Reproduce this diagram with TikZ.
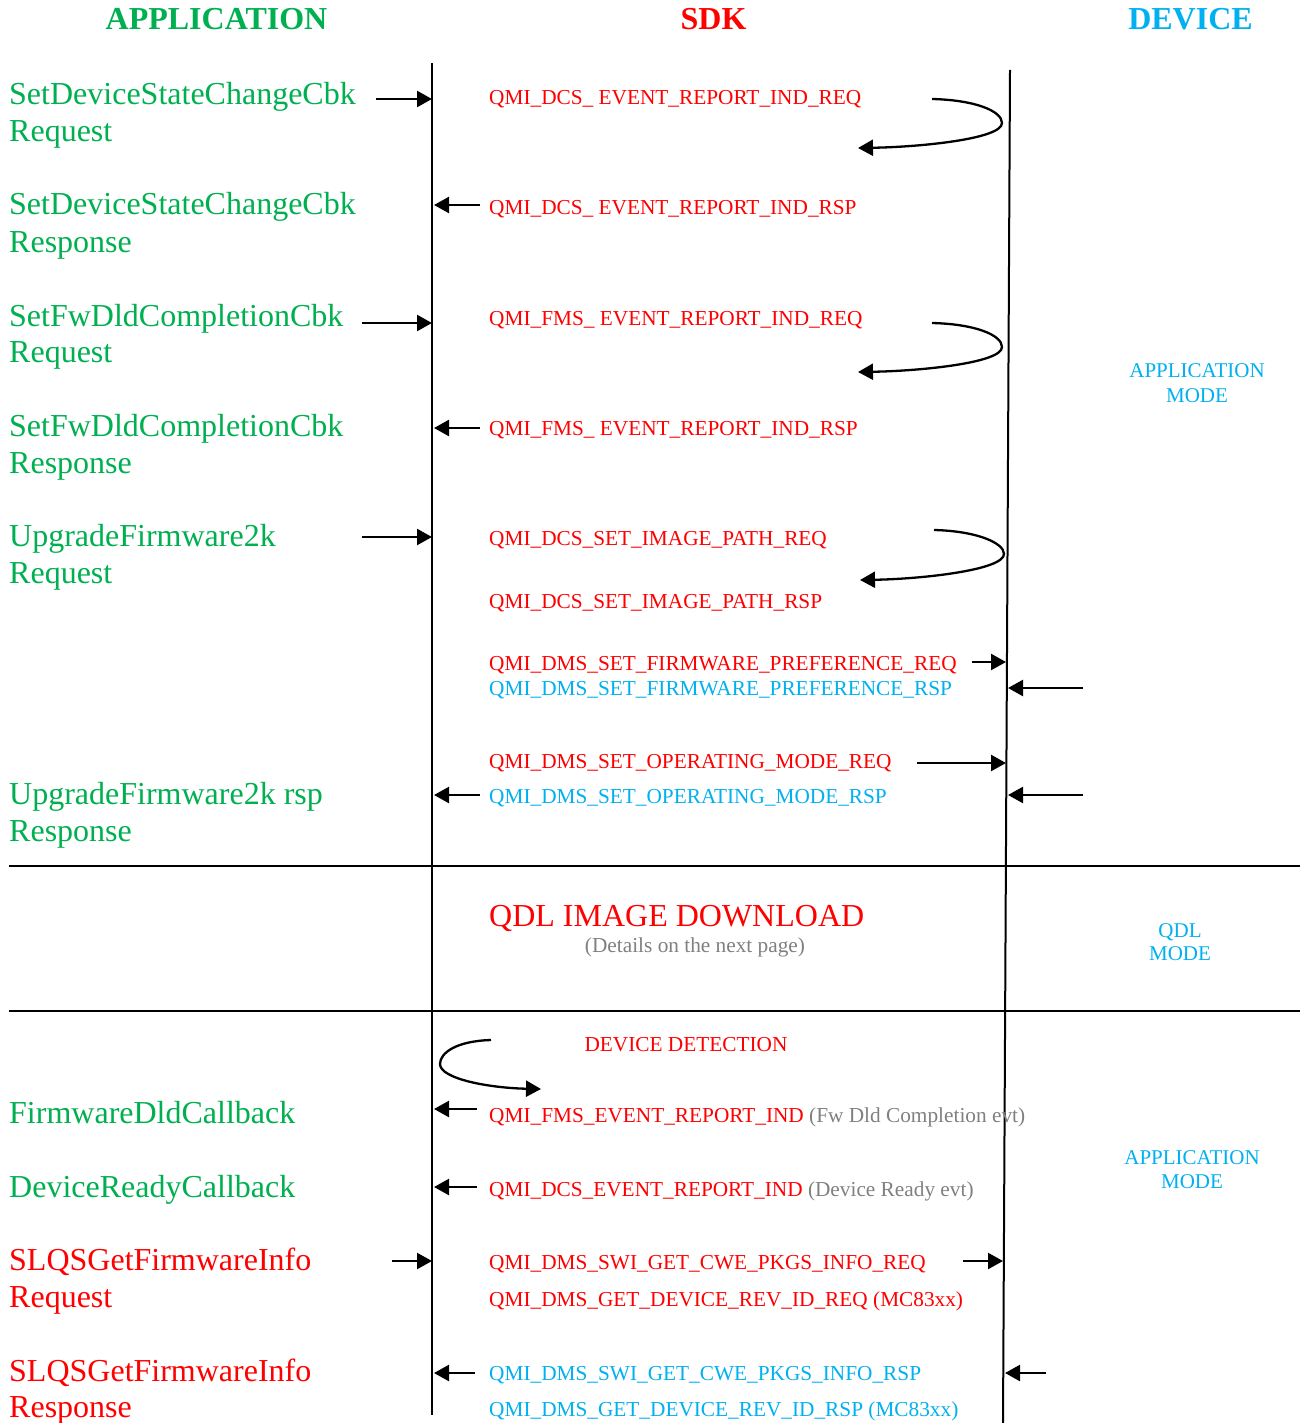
\documentclass[tikz,border=0pt]{standalone}
\usepackage{fontspec}
\setmainfont{Liberation Serif}
\usetikzlibrary{arrows.meta}

\definecolor{appgreen}{HTML}{00B050}
\definecolor{sdkred}{HTML}{FF0000}
\definecolor{devcyan}{HTML}{00B0F0}
\definecolor{notegray}{HTML}{808080}

\tikzset{
  lifeline/.style={line width=2pt},
  divider/.style={line width=2.5pt},
  msg/.style={line width=2.3pt, -{Triangle[length=15pt,width=16pt]}},
  header/.style={font=\fontsize{32}{36}\selectfont\bfseries, anchor=base, inner sep=0pt},
  apilabel/.style={font=\fontsize{32}{37}\selectfont, anchor=base west, inner sep=0pt},
  qmi/.style={font=\fontsize{21.3}{25}\selectfont, anchor=base west, inner sep=0pt},
  modelabel/.style={font=\fontsize{21}{25}\selectfont, text=devcyan, anchor=base, inner sep=0pt},
}

\begin{document}
\begin{tikzpicture}[x=1pt, y=-1pt]
\useasboundingbox (0,0) rectangle (1302,1423);

% column headers
\node[header, text=appgreen] (hApp) at (216.5,30) {APPLICATION};
\node[header, text=sdkred]   (hSdk) at (713.5,30) {SDK};
\node[header, text=devcyan]  (hDev) at (1190.5,30) {DEVICE};

% lifelines
\coordinate (appTop) at (432,63);
\coordinate (appBot) at (432,1415);
\coordinate (devTop) at (1010,70);
\coordinate (devBot) at (1003,1423);
\draw[lifeline] (appTop) -- (appBot);
\draw[lifeline] (devTop) -- (devBot);

% section dividers
\coordinate (divAL) at (9,866);   \coordinate (divAR) at (1300,866);
\coordinate (divBL) at (9,1011);  \coordinate (divBR) at (1300,1011);
\draw[divider] (divAL) -- (divAR);
\draw[divider] (divBL) -- (divBR);

% application-side API calls
\node[apilabel, text=appgreen] (a1)  at (9,105)  {SetDeviceStateChangeCbk};
\node[apilabel, text=appgreen] (a1b) at (9,142)  {Request};
\node[apilabel, text=appgreen] (a2)  at (9,215)  {SetDeviceStateChangeCbk};
\node[apilabel, text=appgreen] (a2b) at (9,252)  {Response};
\node[apilabel, text=appgreen] (a3)  at (9,326)  {SetFwDldCompletionCbk};
\node[apilabel, text=appgreen] (a3b) at (9,362)  {Request};
\node[apilabel, text=appgreen] (a4)  at (9,436)  {SetFwDldCompletionCbk};
\node[apilabel, text=appgreen] (a4b) at (9,473)  {Response};
\node[apilabel, text=appgreen] (a5)  at (9,546)  {UpgradeFirmware2k};
\node[apilabel, text=appgreen] (a5b) at (9,583)  {Request};
\node[apilabel, text=appgreen] (a6)  at (9,804)  {UpgradeFirmware2k rsp};
\node[apilabel, text=appgreen] (a6b) at (9,841)  {Response};
\node[apilabel, text=appgreen] (a7)  at (9,1123) {FirmwareDldCallback};
\node[apilabel, text=appgreen] (a8)  at (9,1197) {DeviceReadyCallback};
\node[apilabel, text=sdkred]   (a9)  at (9,1270) {SLQSGetFirmwareInfo};
\node[apilabel, text=sdkred]   (a9b) at (9,1307) {Request};
\node[apilabel, text=sdkred]   (a10) at (9,1381) {SLQSGetFirmwareInfo};
\node[apilabel, text=sdkred]   (a10b) at (9,1417) {Response};

% SDK messages
\node[qmi, text=sdkred]  (q1)  at (489,105) {QMI\_DCS\_ EVENT\_REPORT\_IND\_REQ};
\node[qmi, text=sdkred]  (q2)  at (489,215) {QMI\_DCS\_ EVENT\_REPORT\_IND\_RSP};
\node[qmi, text=sdkred]  (q3)  at (489,325) {QMI\_FMS\_ EVENT\_REPORT\_IND\_REQ};
\node[qmi, text=sdkred]  (q4)  at (489,435) {QMI\_FMS\_ EVENT\_REPORT\_IND\_RSP};
\node[qmi, text=sdkred]  (q5)  at (489,545) {QMI\_DCS\_SET\_IMAGE\_PATH\_REQ};
\node[qmi, text=sdkred]  (q6)  at (489,608) {QMI\_DCS\_SET\_IMAGE\_PATH\_RSP};
\node[qmi, text=sdkred]  (q7)  at (489,670) {QMI\_DMS\_SET\_FIRMWARE\_PREFERENCE\_REQ};
\node[qmi, text=devcyan] (q8)  at (489,695) {QMI\_DMS\_SET\_FIRMWARE\_PREFERENCE\_RSP};
\node[qmi, text=sdkred]  (q9)  at (489,768) {QMI\_DMS\_SET\_OPERATING\_MODE\_REQ};
\node[qmi, text=devcyan] (q10) at (489,803) {QMI\_DMS\_SET\_OPERATING\_MODE\_RSP};

% QDL section
\node[anchor=base west, inner sep=0pt, text=sdkred, font=\fontsize{32}{36}\selectfont]
  (qdl) at (489,926) {QDL IMAGE DOWNLOAD};
\node[anchor=base, inner sep=0pt, text=notegray, font=\fontsize{21.3}{25}\selectfont]
  (qdlnote) at (695,952) {(Details on the next page)};

% lower section messages
\node[anchor=base, inner sep=0pt, text=sdkred, font=\fontsize{21.3}{25}\selectfont]
  (detect) at (686,1051) {DEVICE DETECTION};
\node[qmi, text=sdkred]  (q11) at (489,1122) {QMI\_FMS\_EVENT\_REPORT\_IND {\color{notegray}(Fw Dld Completion evt)}};
\node[qmi, text=sdkred]  (q12) at (489,1196) {QMI\_DCS\_EVENT\_REPORT\_IND {\color{notegray}(Device Ready evt)}};
\node[qmi, text=sdkred]  (q13) at (489,1269) {QMI\_DMS\_SWI\_GET\_CWE\_PKGS\_INFO\_REQ};
\node[qmi, text=sdkred]  (q14) at (489,1306) {QMI\_DMS\_GET\_DEVICE\_REV\_ID\_REQ (MC83xx)};
\node[qmi, text=devcyan] (q15) at (489,1380) {QMI\_DMS\_SWI\_GET\_CWE\_PKGS\_INFO\_RSP};
\node[qmi, text=devcyan] (q16) at (489,1416) {QMI\_DMS\_GET\_DEVICE\_REV\_ID\_RSP (MC83xx)};

% device modes
\node[modelabel] (m1a) at (1197,377)  {APPLICATION};
\node[modelabel] (m1b) at (1197,402)  {MODE};
\node[modelabel] (m2a) at (1180,937)  {QDL};
\node[modelabel] (m2b) at (1180,960)  {MODE};
\node[modelabel] (m3a) at (1192,1164) {APPLICATION};
\node[modelabel] (m3b) at (1192,1188) {MODE};

% straight message arrows: name/start/end
\foreach \n/\xs/\xe/\yy in {
    r1/376/432/99,   l1/480/434/205,
    r2/362/432/323,  l2/480/434/428,
    r3/362/432/537,  l3/480/434/795,
    d1/972/1006/662, d2/1083/1008/688,
    d3/917/1006/763, d4/1083/1008/795,
    l4/477/434/1109, l5/477/434/1187,
    r4/392/432/1261, l6/475/434/1373,
    d5/963/1003/1261, d6/1046/1005/1373}{
  \coordinate (\n s) at (\xs,\yy);
  \coordinate (\n e) at (\xe,\yy);
  \draw[msg] (\n s) -- (\n e);
}

% looping requests turned back at the device
\foreach \n/\yy in {c1/99, c2/323}{
  \coordinate (\n s) at (932,\yy);
  \coordinate (\n m) at (1002,\yy+24);
  \coordinate (\n e) at (858,\yy+49);
  \draw[msg] (\n s) .. controls (975,\yy+1) and (1002,\yy+12) .. (\n m)
             .. controls (1002,\yy+40) and (920,\yy+48) .. (\n e);
}
\coordinate (c3s) at (934,530);
\coordinate (c3m) at (1004,554);
\coordinate (c3e) at (860,580);
\draw[msg] (c3s) .. controls (977,531) and (1004,543) .. (c3m)
           .. controls (1004,570) and (922,579) .. (c3e);

% device detection loop on the SDK side
\coordinate (c4s) at (491,1040);
\coordinate (c4m) at (440,1064);
\coordinate (c4e) at (541,1089);
\draw[msg] (c4s) .. controls (456,1041) and (440,1053) .. (c4m)
           .. controls (440,1079) and (490,1088) .. (c4e);
\end{tikzpicture}
\end{document}
